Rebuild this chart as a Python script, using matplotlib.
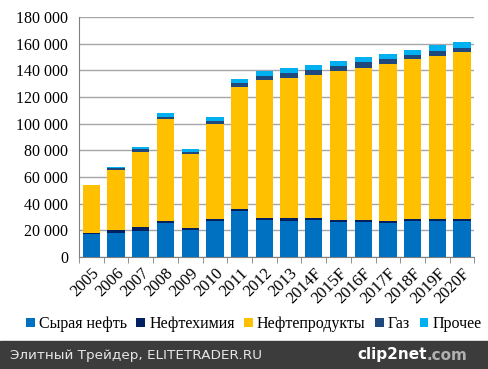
import matplotlib
matplotlib.use('Agg')
import matplotlib.pyplot as plt
import numpy as np

# --- data ---
years = ['2005', '2006', '2007', '2008', '2009', '2010', '2011', '2012', '2013',
         '2014F', '2015F', '2016F', '2017F', '2018F', '2019F', '2020F']
crude = [17000, 18200, 19700, 25250, 20250, 27250, 34250, 28000, 27250,
         28000, 26500, 26500, 25750, 27000, 26750, 27250]
petchem = [1200, 2000, 2550, 1750, 1500, 1500, 1750, 1500, 2000,
           1250, 1500, 1500, 1500, 1500, 1750, 1500]
products = [35800, 45050, 56750, 76250, 55250, 71250, 91500, 103000, 105250,
            107250, 111500, 114000, 117750, 119750, 122500, 125250]
gas = [200, 1250, 1750, 1500, 2000, 1750, 3000, 3500, 3500,
       3750, 3750, 4250, 3500, 3500, 3500, 2750]
other = [0, 1000, 1750, 3250, 2000, 3000, 3000, 3250, 3750,
         3500, 3750, 3500, 4000, 3750, 4250, 4500]

names = ['Сырая нефть', 'Нефтехимия', 'Нефтепродукты', 'Газ', 'Прочее']
colors = ['#0070C0', '#002060', '#FFC000', '#1F497D', '#00B0F0']

fig = plt.figure(figsize=(4.88, 3.69), dpi=100)
ax = fig.add_axes([0.162, 0.3035, 0.81, 0.6505])

x = np.arange(len(years))
bottom = np.zeros(len(years))
for vals, name, c in zip([crude, petchem, products, gas, other], names, colors):
    ax.bar(x, vals, width=0.7, bottom=bottom, color=c, label=name, zorder=3)
    bottom += np.array(vals)

ax.set_ylim(0, 180000)
ax.set_xlim(-0.5, len(years) - 0.5)
ax.set_yticks(np.arange(0, 180001, 20000))
ax.set_yticklabels(['0' if v == 0 else '{:,}'.format(v).replace(',', ' ')
                    for v in range(0, 180001, 20000)],
                   family='Liberation Serif', fontsize=11.5)
ax.yaxis.grid(True, color='#A6A6A6', linewidth=1, zorder=0)
ax.tick_params(axis='y', length=0, pad=8)

# category ticks between bars
ax.set_xticks(np.arange(-0.5, len(years), 1), minor=True)
ax.set_xticks(x)
ax.set_xticklabels(years, rotation=45, ha='right', rotation_mode='anchor',
                   family='Liberation Serif', fontsize=12)
ax.tick_params(axis='x', which='major', length=0, pad=6)
ax.tick_params(axis='x', which='minor', length=4, color='#808080')

for s in ['top', 'right']:
    ax.spines[s].set_visible(False)
ax.spines['left'].set_color('#808080')
ax.spines['bottom'].set_color('#808080')

leg = fig.legend(loc='center', bbox_to_anchor=(0.52, 0.122), ncol=5, frameon=False,
                 prop={'family': 'Liberation Serif', 'size': 11.5},
                 handlelength=0.55, handleheight=0.55, handletextpad=0.25,
                 columnspacing=0.6)

# footer band
fig.patches.append(plt.Rectangle((0, 0), 1, 28 / 369, transform=fig.transFigure,
                                 color='#3C3C3C', zorder=0))
fig.text(0.02, 14 / 369, 'Элитный Трейдер, ELITETRADER.RU', color='#E6E6E6',
         fontsize=9.7, va='center', family='DejaVu Sans')
fig.text(0.875, 14 / 369, 'clip2net', color='white', fontsize=11, fontweight='bold',
         va='center', ha='right', family='DejaVu Sans')
fig.text(0.875, 14 / 369, '.com', color='#B0B0B0', fontsize=11, fontweight='bold',
         va='center', ha='left', family='DejaVu Sans')

fig.savefig('out.png', dpi=100)
